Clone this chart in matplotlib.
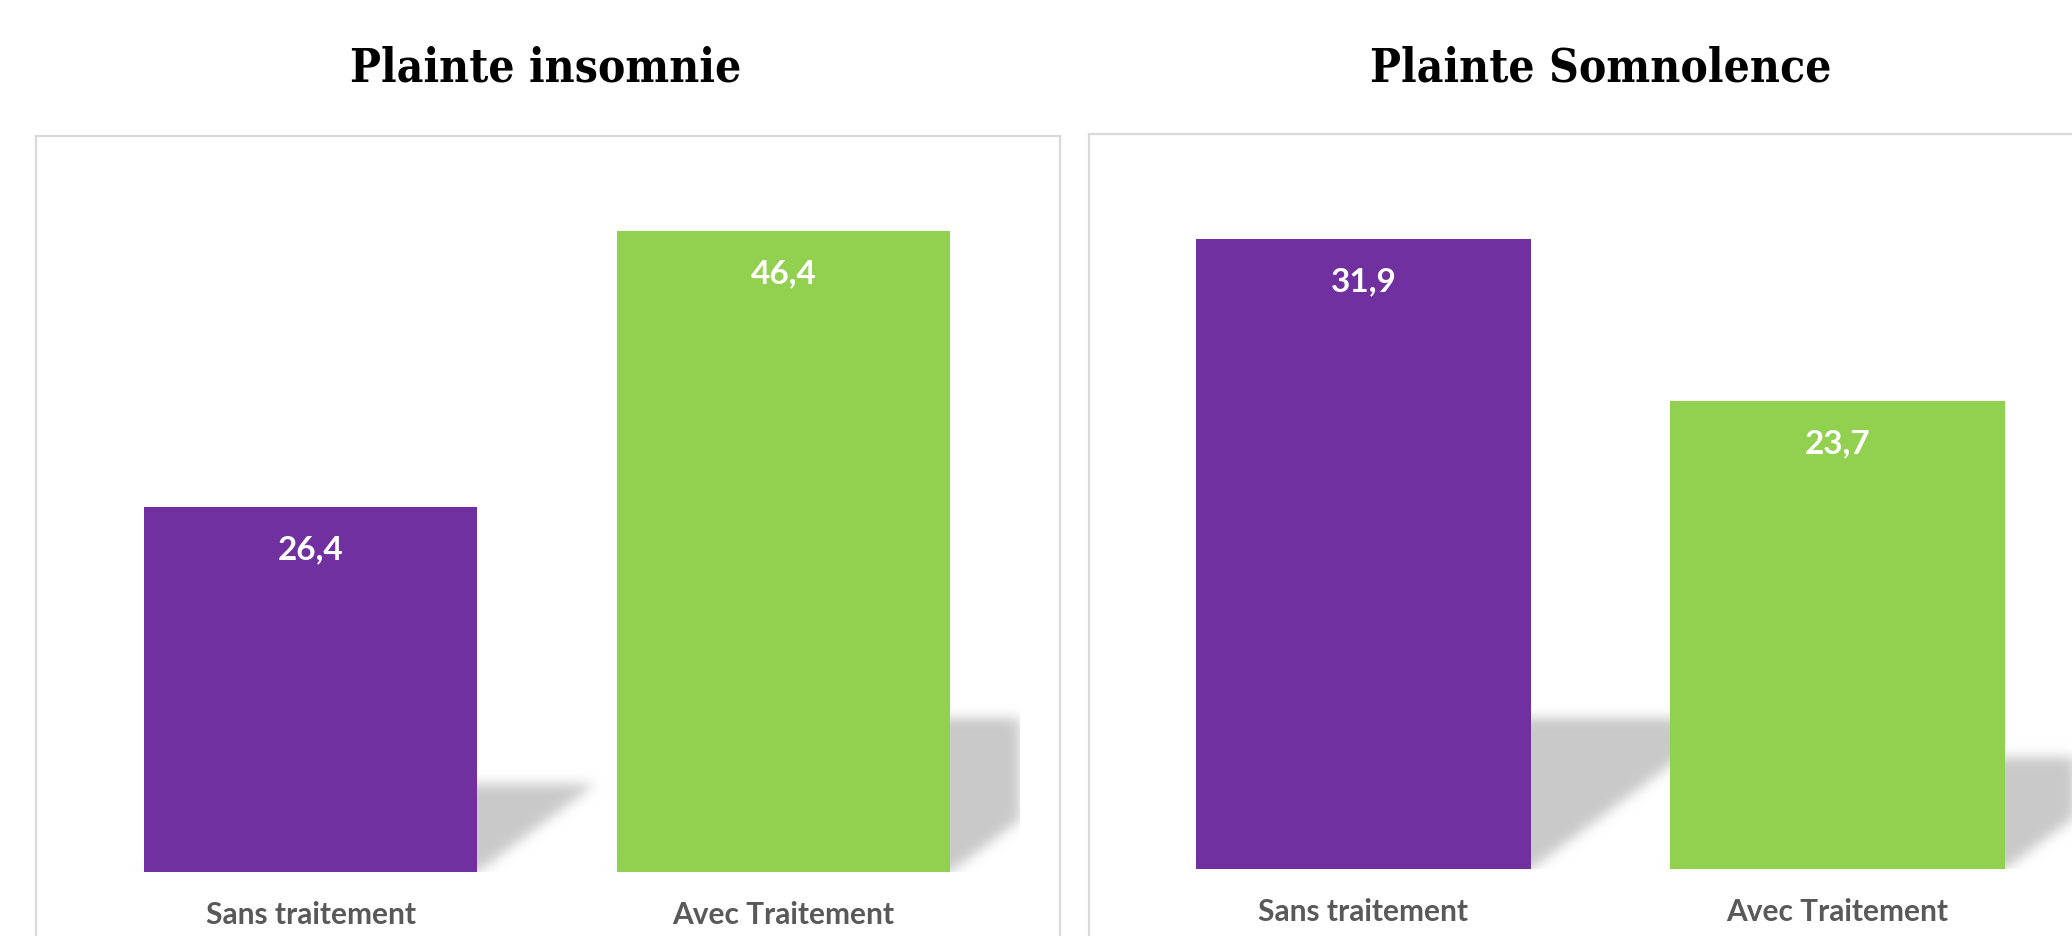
import numpy as np
import matplotlib
matplotlib.use("Agg")
import matplotlib.pyplot as plt
from matplotlib.patches import Rectangle

# ---- data ----
categories = ["Sans traitement", "Avec Traitement"]
titles = ["Plainte insomnie", "Plainte Somnolence"]
insomnie_values = [26.4, 46.4]
somnolence_values = [31.9, 23.7]
bar_colors = ["#7030A0", "#92D050"]

W, H = 2072, 937
fig = plt.figure(figsize=(W / 100, H / 100), dpi=100)
fig.patch.set_facecolor("white")

def fx(px):
    return px / W

def fy(py):
    return 1 - py / H

# panel frames (left, top, right) in pixels
frames = [(36, 137, 1060), (1089, 135, 2100)]
for (l, t, r) in frames:
    fig.patches.append(Rectangle((fx(l), fy(H + 20)), fx(r) - fx(l), fy(t) - fy(H + 20),
                                 transform=fig.transFigure, fill=False,
                                 edgecolor="#d9d9d9", linewidth=1.6, zorder=0))

# axes geometry: (left px, right px, bottom px, top px)
axes_geom = [(74, 1020, 873, 137), (1126.5, 2074.5, 870, 135)]
px_per_unit = [641 / 46.4, 630 / 31.9]
title_pos = [(546, 82), (1601, 82)]
bar_width = 0.706


def gaussian_blur(img, sigma):
    r = int(3 * sigma)
    xs = np.arange(-r, r + 1)
    k = np.exp(-xs ** 2 / (2 * sigma ** 2))
    k /= k.sum()
    img = np.apply_along_axis(lambda m: np.convolve(m, k, mode="same"), 0, img)
    img = np.apply_along_axis(lambda m: np.convolve(m, k, mode="same"), 1, img)
    return img


def draw_shadows(ax, xs, vals, width):
    bb = ax.bbox
    x0, y0, x1, y1 = bb.x0, bb.y0, bb.x1, bb.y1
    nx, ny = int(round(x1 - x0)), int(round(y1 - y0))
    X = x0 + np.arange(nx) + 0.5
    Y = y0 + np.arange(ny) + 0.5
    XX, YY = np.meshgrid(X, Y)
    mask = np.zeros((ny, nx))
    for xc, v in zip(xs, vals):
        (xl, yb) = ax.transData.transform((xc - width / 2, 0))
        (xr, yt) = ax.transData.transform((xc + width / 2, v))
        h = yt - yb
        dy = 0.24 * h
        k = 1.34
        t = YY - yb
        m = (t >= 0) & (t <= dy) & (XX >= xl + k * t) & (XX <= xr + k * t)
        mask = np.maximum(mask, m.astype(float))
    mask = gaussian_blur(mask, 6.0)
    rgba = np.zeros((ny, nx, 4))
    rgba[..., :3] = 0.79
    rgba[..., 3] = np.clip(mask, 0, 1)
    xlim, ylim = ax.get_xlim(), ax.get_ylim()
    ax.imshow(rgba, extent=(xlim[0], xlim[1], ylim[0], ylim[1]), origin="lower",
              aspect="auto", interpolation="bilinear", zorder=1)
    ax.set_xlim(xlim)
    ax.set_ylim(ylim)


for i, vals in enumerate([insomnie_values, somnolence_values]):
    l, r, b, t = axes_geom[i]
    ax = fig.add_axes([fx(l), fy(b), fx(r) - fx(l), fy(t) - fy(b)])
    ax.set_facecolor("none")
    ax.set_xlim(-0.5, 1.5)
    ax.set_ylim(0, (b - t) / px_per_unit[i])
    for s in ax.spines.values():
        s.set_visible(False)
    ax.set_yticks([])
    xs = np.arange(len(categories))
    draw_shadows(ax, xs, vals, bar_width)
    ax.bar(xs, vals, width=bar_width, color=bar_colors, zorder=2)
    for xc, v in zip(xs, vals):
        ax.annotate(f"{v:.1f}".replace(".", ","), (xc, v), xytext=(0, -30),
                    textcoords="offset points", ha="center", va="center",
                    color="white", fontsize=24, fontweight="bold", family="Lato", zorder=3)
    ax.set_xticks(xs)
    ax.set_xticklabels(categories, fontsize=21.5, fontweight="bold", family="Lato",
                       color="#595959")
    ax.tick_params(axis="x", length=0, pad=20)
    tx, ty = title_pos[i]
    fig.text(fx(tx), fy(ty), titles[i], ha="center", va="baseline", fontsize=33,
             fontweight="bold", family="DejaVu Serif", fontstretch="condensed",
             color="black")

fig.savefig("out.png", dpi=100)
